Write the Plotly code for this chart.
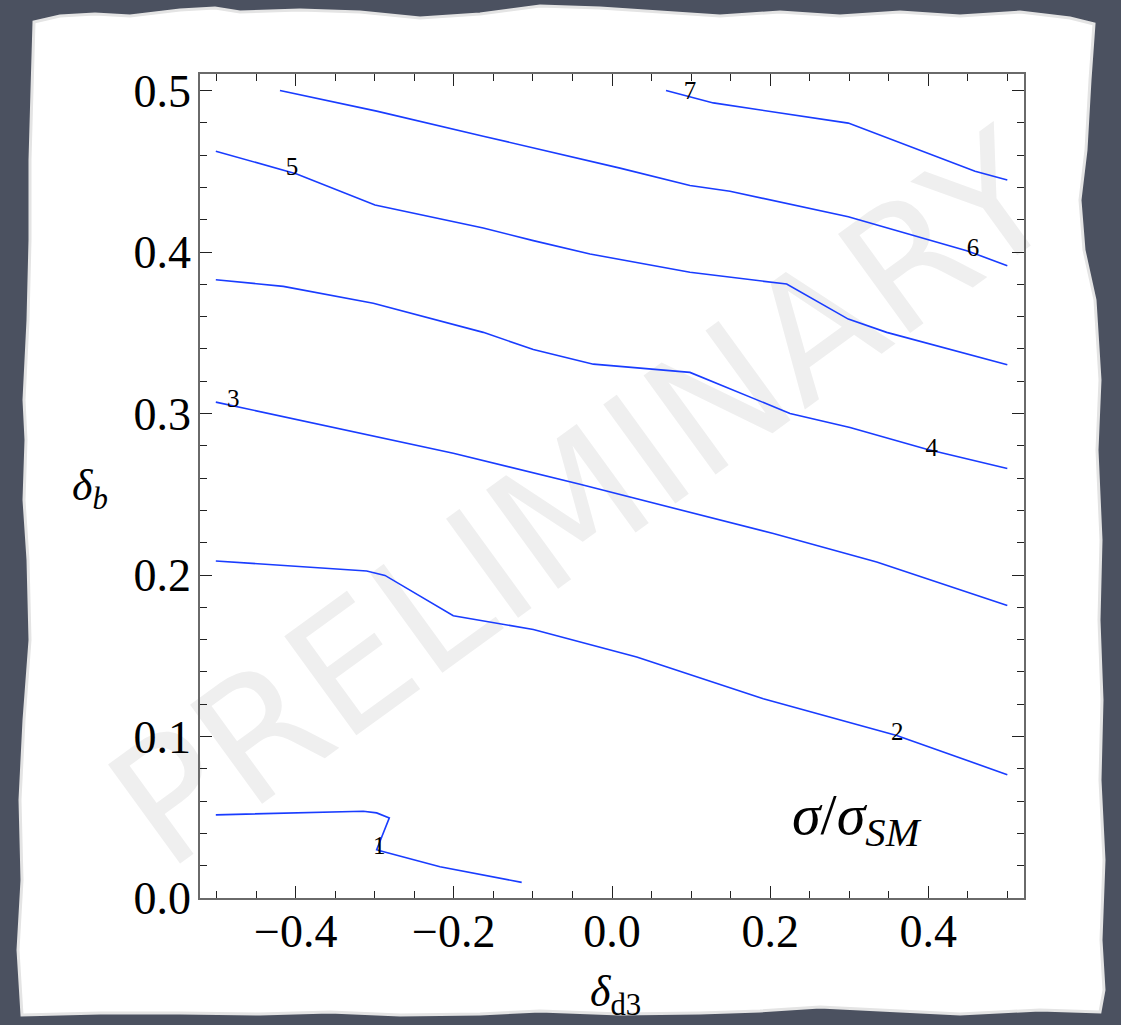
import plotly.graph_objects as go

# ---------------- data ----------------
c1_x = [-0.501, -0.3145, -0.2976, -0.2816, -0.2976, -0.2934, -0.2175, -0.1416, -0.1142]
c1_y = [0.0515, 0.0537, 0.0527, 0.0496, 0.0299, 0.0293, 0.0194, 0.0122, 0.0097]

c2_x = [-0.501, -0.3102, -0.2871, -0.2007, -0.0995, 0.0101, 0.0312, 0.1913, 0.3600, 0.4999]
c2_y = [0.2087, 0.2025, 0.1998, 0.1748, 0.1663, 0.1519, 0.1492, 0.1234, 0.1006, 0.0764]

c3_x = [-0.501, -0.3019, -0.2007, -0.0405, 0.2040, 0.3347, 0.4999]
c3_y = [0.3071, 0.2862, 0.2754, 0.2562, 0.2257, 0.2081, 0.1812]

c4_x = [-0.501, -0.4157, -0.3019, -0.1628, -0.0995, -0.0236, 0.0986, 0.2251, 0.3010, 0.3980, 0.4999]
c4_y = [0.3829, 0.3788, 0.3683, 0.3503, 0.3397, 0.3306, 0.3255, 0.3001, 0.2914, 0.2779, 0.2660]

c5_x = [-0.501, -0.3987, -0.2997, -0.1628, -0.0995, -0.0278, 0.0986, 0.2209, 0.2988, 0.3474, 0.4999]
c5_y = [0.4625, 0.4484, 0.4292, 0.4149, 0.4071, 0.3988, 0.3875, 0.3802, 0.3585, 0.3503, 0.3302]

c6_x = [-0.4199, -0.2976, -0.1628, -0.0826, 0.0101, 0.0986, 0.1492, 0.2988, 0.4486, 0.4999]
c6_y = [0.5001, 0.4873, 0.4718, 0.4625, 0.4520, 0.4412, 0.4377, 0.4219, 0.4009, 0.3916]

c7_x = [0.0683, 0.1281, 0.2988, 0.4591, 0.4999]
c7_y = [0.5001, 0.4924, 0.4799, 0.4501, 0.4447]

contours = [(c1_x, c1_y), (c2_x, c2_y), (c3_x, c3_y), (c4_x, c4_y),
            (c5_x, c5_y), (c6_x, c6_y), (c7_x, c7_y)]

label_text = ["1", "2", "3", "4", "5", "6", "7"]
label_x = [-0.2943, 0.3608, -0.4789, 0.4043, -0.4047, 0.4565, 0.0986]
label_y = [0.0314, 0.1017, 0.3079, 0.2779, 0.4515, 0.4013, 0.4986]

x_ticks = [-0.4, -0.2, 0.0, 0.2, 0.4]
y_ticks = [0.0, 0.1, 0.2, 0.3, 0.4, 0.5]

# ---------------- figure ----------------
W, H = 1121, 1025
ML, MR, MT, MB = 200, 97, 74, 127
PW, PH = W - ML - MR, H - MT - MB


def px(x):
    return (x - ML) / PW


def py(y):
    return (H - MB - y) / PH


SERIF = "Liberation Serif, Times New Roman, serif"
LINE_COLOR = "rgb(25,60,255)"

fig = go.Figure()
for cx, cy in contours:
    fig.add_trace(go.Scatter(x=cx, y=cy, mode="lines",
                             line=dict(color=LINE_COLOR, width=1.6),
                             hoverinfo="skip", showlegend=False))

fig.add_trace(go.Scatter(x=label_x, y=label_y, mode="text", text=label_text,
                         textfont=dict(family=SERIF, size=25, color="black"),
                         textposition="middle center",
                         hoverinfo="skip", showlegend=False))

# torn paper outline (decoration), pixel coords
paper_pts = [(34, 22), (60, 16), (95, 14), (130, 16), (180, 10), (215, 8), (240, 12),
             (300, 10), (360, 12), (420, 18), (480, 14), (510, 10), (540, 6), (600, 8),
             (660, 12), (720, 16), (780, 12), (840, 16), (900, 12), (960, 16), (1020, 12),
             (1070, 18), (1094, 24), (1090, 80), (1086, 150), (1080, 200), (1084, 250),
             (1095, 300), (1100, 380), (1097, 450), (1101, 540), (1099, 620), (1102, 700),
             (1100, 780), (1104, 860), (1101, 940), (1104, 990), (1100, 1012), (1040, 1010),
             (960, 1014), (900, 1011), (820, 1007), (760, 1011), (700, 1013), (620, 1014),
             (540, 1011), (480, 1014), (400, 1015), (330, 1012), (260, 1014), (180, 1013),
             (100, 1013), (22, 1015), (18, 950), (22, 880), (20, 800), (24, 720), (30, 640),
             (28, 560), (24, 500), (26, 440), (24, 400), (28, 320), (30, 240), (30, 160),
             (32, 90)]
path = "M " + " L ".join(f"{px(a):.5f},{py(b):.5f}" for a, b in paper_pts) + " Z"

shapes = [
    dict(type="path", path=path, xref="paper", yref="paper", layer="below",
         fillcolor="white", line=dict(color="#e4e4e4", width=3)),
    dict(type="rect", xref="paper", yref="paper", layer="below",
         x0=px(375), x1=px(775), y0=py(690), y1=py(290),
         line=dict(width=0), fillcolor="rgba(0,0,0,0)",
         label=dict(text="PRELIMINARY", textangle=-36,
                    textposition="middle center",
                    font=dict(family="DejaVu Sans", size=168, color="#efefef"))),
]

annotations = [
    dict(text="<i>δ</i><sub><i>b</i></sub>", x=px(90), y=py(488), xref="paper", yref="paper",
         showarrow=False, xanchor="center", yanchor="middle",
         font=dict(family=SERIF, size=44, color="black")),
    dict(text="<i>δ</i><sub>d3</sub>", x=px(615), y=py(994), xref="paper", yref="paper",
         showarrow=False, xanchor="center", yanchor="middle",
         font=dict(family=SERIF, size=44, color="black")),
    dict(text="<i>σ</i>/<i>σ</i><sub><i>SM</i></sub>", x=px(857), y=py(818),
         xref="paper", yref="paper", showarrow=False, xanchor="center", yanchor="middle",
         font=dict(family=SERIF, size=58, color="black")),
]

axis_common = dict(showgrid=False, zeroline=False, showline=True, linecolor="#6a6a6a",
                   linewidth=1.5, mirror="ticks", ticks="inside", ticklen=12,
                   tickwidth=1.3, tickcolor="#222222",
                   tickfont=dict(family=SERIF, size=46, color="black"))

fig.update_layout(
    width=W, height=H,
    margin=dict(l=ML, r=MR, t=MT, b=MB),
    paper_bgcolor="#4b5160",
    plot_bgcolor="rgba(0,0,0,0)",
    shapes=shapes,
    annotations=annotations,
    xaxis=dict(range=[-0.521, 0.521], tickvals=x_ticks, tickformat=".1f",
               ticklabelstandoff=-8,
               minor=dict(dtick=0.05, tick0=0, ticks="inside", ticklen=7,
                          tickwidth=1.1, tickcolor="#222222"),
               **axis_common),
    yaxis=dict(range=[0, 0.5103], tickvals=y_ticks, tickformat=".1f",
               ticklabelstandoff=-2,
               minor=dict(dtick=0.02, tick0=0, ticks="inside", ticklen=7,
                          tickwidth=1.1, tickcolor="#222222"),
               **axis_common),
)

fig.write_html("out.html")
